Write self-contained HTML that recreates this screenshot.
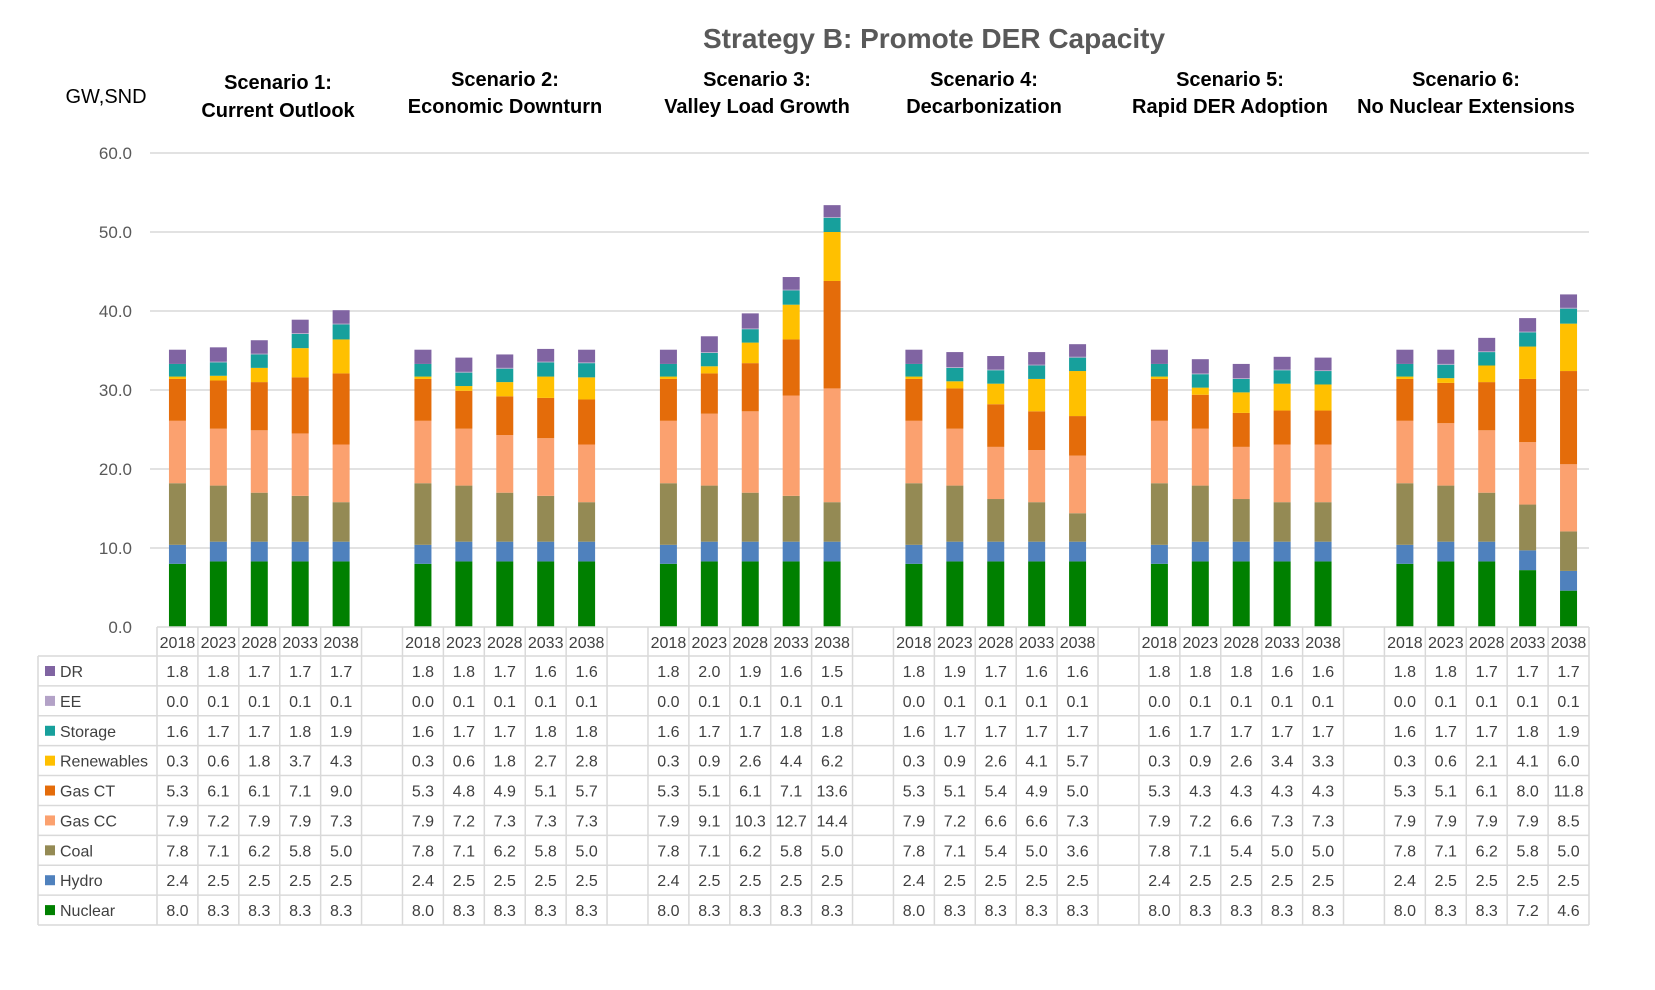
<!DOCTYPE html>
<html><head><meta charset="utf-8"><style>
body{margin:0;background:#fff;}
svg{display:block;font-family:"Liberation Sans",sans-serif;}
</style></head><body>
<svg id="chart" width="1655" height="990" xmlns="http://www.w3.org/2000/svg">
<text x="934" y="48" text-anchor="middle" font-size="28" font-weight="bold" fill="#595959">Strategy B: Promote DER Capacity</text>
<text x="106" y="103" text-anchor="middle" font-size="20" fill="#000">GW,SND</text>
<g id="grid"></g><g id="bars"></g><g id="table"></g><g id="scen"></g>
</svg>
<script>
const scenarios = [["Scenario 1:","Current Outlook"],["Scenario 2:","Economic Downturn"],["Scenario 3:","Valley Load Growth"],["Scenario 4:","Decarbonization"],["Scenario 5:","Rapid DER Adoption"],["Scenario 6:","No Nuclear Extensions"]];
const years = ["2018","2023","2028","2033","2038"];
const yTicks = [0,10,20,30,40,50,60];
const seriesNames = ["DR","EE","Storage","Renewables","Gas CT","Gas CC","Coal","Hydro","Nuclear"];
const DR = [1.8,1.8,1.7,1.7,1.7, 1.8,1.8,1.7,1.6,1.6, 1.8,2.0,1.9,1.6,1.5, 1.8,1.9,1.7,1.6,1.6, 1.8,1.8,1.8,1.6,1.6, 1.8,1.8,1.7,1.7,1.7];
const EE = [0.0,0.1,0.1,0.1,0.1, 0.0,0.1,0.1,0.1,0.1, 0.0,0.1,0.1,0.1,0.1, 0.0,0.1,0.1,0.1,0.1, 0.0,0.1,0.1,0.1,0.1, 0.0,0.1,0.1,0.1,0.1];
const Storage = [1.6,1.7,1.7,1.8,1.9, 1.6,1.7,1.7,1.8,1.8, 1.6,1.7,1.7,1.8,1.8, 1.6,1.7,1.7,1.7,1.7, 1.6,1.7,1.7,1.7,1.7, 1.6,1.7,1.7,1.8,1.9];
const Renewables = [0.3,0.6,1.8,3.7,4.3, 0.3,0.6,1.8,2.7,2.8, 0.3,0.9,2.6,4.4,6.2, 0.3,0.9,2.6,4.1,5.7, 0.3,0.9,2.6,3.4,3.3, 0.3,0.6,2.1,4.1,6.0];
const GasCT = [5.3,6.1,6.1,7.1,9.0, 5.3,4.8,4.9,5.1,5.7, 5.3,5.1,6.1,7.1,13.6, 5.3,5.1,5.4,4.9,5.0, 5.3,4.3,4.3,4.3,4.3, 5.3,5.1,6.1,8.0,11.8];
const GasCC = [7.9,7.2,7.9,7.9,7.3, 7.9,7.2,7.3,7.3,7.3, 7.9,9.1,10.3,12.7,14.4, 7.9,7.2,6.6,6.6,7.3, 7.9,7.2,6.6,7.3,7.3, 7.9,7.9,7.9,7.9,8.5];
const Coal = [7.8,7.1,6.2,5.8,5.0, 7.8,7.1,6.2,5.8,5.0, 7.8,7.1,6.2,5.8,5.0, 7.8,7.1,5.4,5.0,3.6, 7.8,7.1,5.4,5.0,5.0, 7.8,7.1,6.2,5.8,5.0];
const Hydro = [2.4,2.5,2.5,2.5,2.5, 2.4,2.5,2.5,2.5,2.5, 2.4,2.5,2.5,2.5,2.5, 2.4,2.5,2.5,2.5,2.5, 2.4,2.5,2.5,2.5,2.5, 2.4,2.5,2.5,2.5,2.5];
const Nuclear = [8.0,8.3,8.3,8.3,8.3, 8.0,8.3,8.3,8.3,8.3, 8.0,8.3,8.3,8.3,8.3, 8.0,8.3,8.3,8.3,8.3, 8.0,8.3,8.3,8.3,8.3, 8.0,8.3,8.3,7.2,4.6];

const seriesData = [DR,EE,Storage,Renewables,GasCT,GasCC,Coal,Hydro,Nuclear];
const colors = ["#8064a2","#b3a2c7","#17a09c","#ffc000","#e46c0a","#fba16f","#948a54","#4f81bd","#008000"];
const NS="http://www.w3.org/2000/svg";
const svg=document.getElementById('chart');
const x0=157, colW=(1589-157)/35, y0=627, pxPer=7.9, barW=17;
function yScale(v){return y0-v*pxPer;}
function colX(s,i){return x0+(s*6+i)*colW;}
function mk(tag,attrs,parent){const e=document.createElementNS(NS,tag);for(const k in attrs)e.setAttribute(k,attrs[k]);parent.appendChild(e);return e;}
const grid=document.getElementById('grid');
yTicks.forEach(t=>{
  if(t>0){const l=mk('line',{x1:150,x2:1589,y1:yScale(t),y2:yScale(t),stroke:'#d9d9d9','stroke-width':1.5},grid);
  
  }
  const tx=mk('text',{x:132,y:yScale(t)+6,'text-anchor':'end','font-size':17,fill:'#595959'},grid);
  tx.textContent=t.toFixed(1);
  
  
});
const bars=document.getElementById('bars');
for(let s=0;s<6;s++){for(let i=0;i<5;i++){
  const k=s*5+i; let acc=0;
  for(let j=seriesData.length-1;j>=0;j--){
    const v=seriesData[j][k];
    const r=mk('rect',{x:colX(s,i)+(colW-barW)/2,y:yScale(acc+v),width:barW,height:v*pxPer,fill:colors[j]},bars);
    
    
    acc+=v;
  }
}}
const sc=document.getElementById('scen');
const scX=[278,505,757,984,1230,1466];
scenarios.forEach((p,s)=>{
  const t=mk('text',{x:scX[s],'text-anchor':'middle','font-size':20,'font-weight':'bold',fill:'#000'},sc);
  
  
  const a=mk('tspan',{x:scX[s],y:s==0?89:86},t);a.textContent=p[0];
  const b=mk('tspan',{x:scX[s],y:s==0?117:113},t);b.textContent=p[1];
});
const tb=document.getElementById('table');
const rowH=(925-656)/9, tl=38, stroke='#d9d9d9';
mk('line',{x1:x0,x2:1589,y1:y0,y2:y0,stroke:stroke,'stroke-width':1.5},tb);
for(let r=0;r<=9;r++){const y=656+r*rowH;mk('line',{x1:tl,x2:1589,y1:y,y2:y,stroke:stroke,'stroke-width':1.5},tb);}
mk('line',{x1:tl,x2:tl,y1:656,y2:925,stroke:stroke,'stroke-width':1.5},tb);
for(let c=0;c<=35;c++){const x=x0+c*colW;mk('line',{x1:x,x2:x,y1:y0,y2:925,stroke:stroke,'stroke-width':1.5},tb);}
for(let s=0;s<6;s++)for(let i=0;i<5;i++){
  const t=mk('text',{x:colX(s,i)+colW/2,y:y0+21,'text-anchor':'middle','font-size':16,fill:'#404040'},tb);
  t.textContent=years[i];
  
  
}
seriesNames.forEach((n,j)=>{
  const y=656+j*rowH;
  const sw=mk('rect',{x:45,y:y+10,width:10,height:10,fill:colors[j]},tb);
  
  
  const lt=mk('text',{x:60,y:y+21,'font-size':16,fill:'#404040'},tb);
  lt.textContent=n;
  
  
  for(let s=0;s<6;s++)for(let i=0;i<5;i++){
    const t=mk('text',{x:colX(s,i)+colW/2,y:y+21,'text-anchor':'middle','font-size':16,fill:'#404040'},tb);
    t.textContent=seriesData[j][s*5+i].toFixed(1);
    
    
  }
});
</script>
</body></html>
